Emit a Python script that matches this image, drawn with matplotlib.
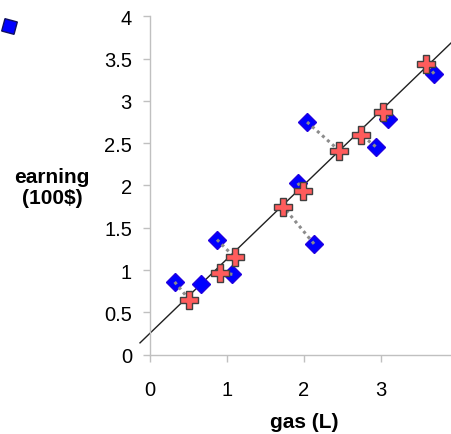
import matplotlib
matplotlib.use("Agg")
import matplotlib.pyplot as plt
import numpy as np

plt.rcParams['font.family'] = ['Liberation Sans', 'DejaVu Sans']

# data points (gas in L, earning in 100$)
gas = [0.32, 0.66, 0.87, 1.07, 2.04, 1.92, 2.13, 3.69, 3.09, 2.93]
earning = [0.86, 0.84, 1.36, 0.95, 2.75, 2.03, 1.31, 3.32, 2.79, 2.46]

# projections on the fitted line (nan = none drawn)
proj_gas = [0.51, np.nan, 1.10, 0.91, 2.46, 1.99, 1.73, 3.59, 3.02, 2.74]
proj_earning = [0.65, np.nan, 1.15, 0.97, 2.41, 1.93, 1.75, 3.43, 2.87, 2.60]

# fitted line end points
line_gas = [-0.13, 3.95]
line_earning = [0.14, 3.72]

# stray marker top left
stray_gas = [-1.83]
stray_earning = [3.88]

xticks = [0, 1, 2, 3]
yticks = [0, 0.5, 1, 1.5, 2, 2.5, 3, 3.5, 4]
ytick_labels = ["0", "0.5", "1", "1.5", "2", "2.5", "3", "3.5", "4"]

fig = plt.figure(figsize=(4.52, 4.35), dpi=100)
ax = fig.add_axes([0, 0, 1, 1])
ax.set_xlim(-1.948, 3.922)
ax.set_ylim(-0.937, 4.204)

# axes through the origin
for side in ['top', 'right']:
    ax.spines[side].set_visible(False)
ax.spines['left'].set_position(('data', 0))
ax.spines['bottom'].set_position(('data', 0))
ax.spines['left'].set_bounds(0, 4)
ax.spines['bottom'].set_bounds(0, 3.922)
for side in ['left', 'bottom']:
    ax.spines[side].set_color('#C0C0C0')
    ax.spines[side].set_linewidth(1.0)

ax.set_xticks(xticks)
ax.set_xticklabels([str(t) for t in xticks])
ax.set_yticks(yticks)
ax.set_yticklabels(ytick_labels)
ax.tick_params(direction='out', length=5, width=1, color='#C0C0C0',
               labelsize=14.5, labelcolor='black')
ax.tick_params(axis='x', pad=13)
ax.tick_params(axis='y', pad=8)

ax.plot(line_gas, line_earning, color='#202020', lw=1.0, zorder=2)
ax.plot(gas, earning, ls='none', marker='D', markersize=9.5,
        markerfacecolor='#0000FF', markeredgecolor='#2000E0', zorder=3)
ax.plot(stray_gas, stray_earning, ls='none', marker=(4, 0, 30), markersize=13,
        markerfacecolor='#0000FF', markeredgecolor='#101060', zorder=3, clip_on=False)

for gx, gy, px, py in zip(gas, earning, proj_gas, proj_earning):
    if np.isnan(px):
        continue
    ax.plot([gx, px], [gy, py], color='#8C8C8C', lw=2.2, ls=(0, (1, 1.2)), zorder=4)

ax.plot(proj_gas, proj_earning, ls='none', marker='P', markersize=12.5,
        markerfacecolor='#FF5C5C', markeredgecolor='#404040', markeredgewidth=1.0, zorder=5)

ax.text(304, 435 - 423, "gas (L)", transform=None, fontsize=15, fontweight='bold',
        ha='center', va='center')
ax.text(52, 435 - 188, "earning\n(100$)", transform=None, fontsize=15, fontweight='bold',
        ha='center', va='center', multialignment='center', linespacing=1.1)

fig.savefig("out.png", dpi=100)
